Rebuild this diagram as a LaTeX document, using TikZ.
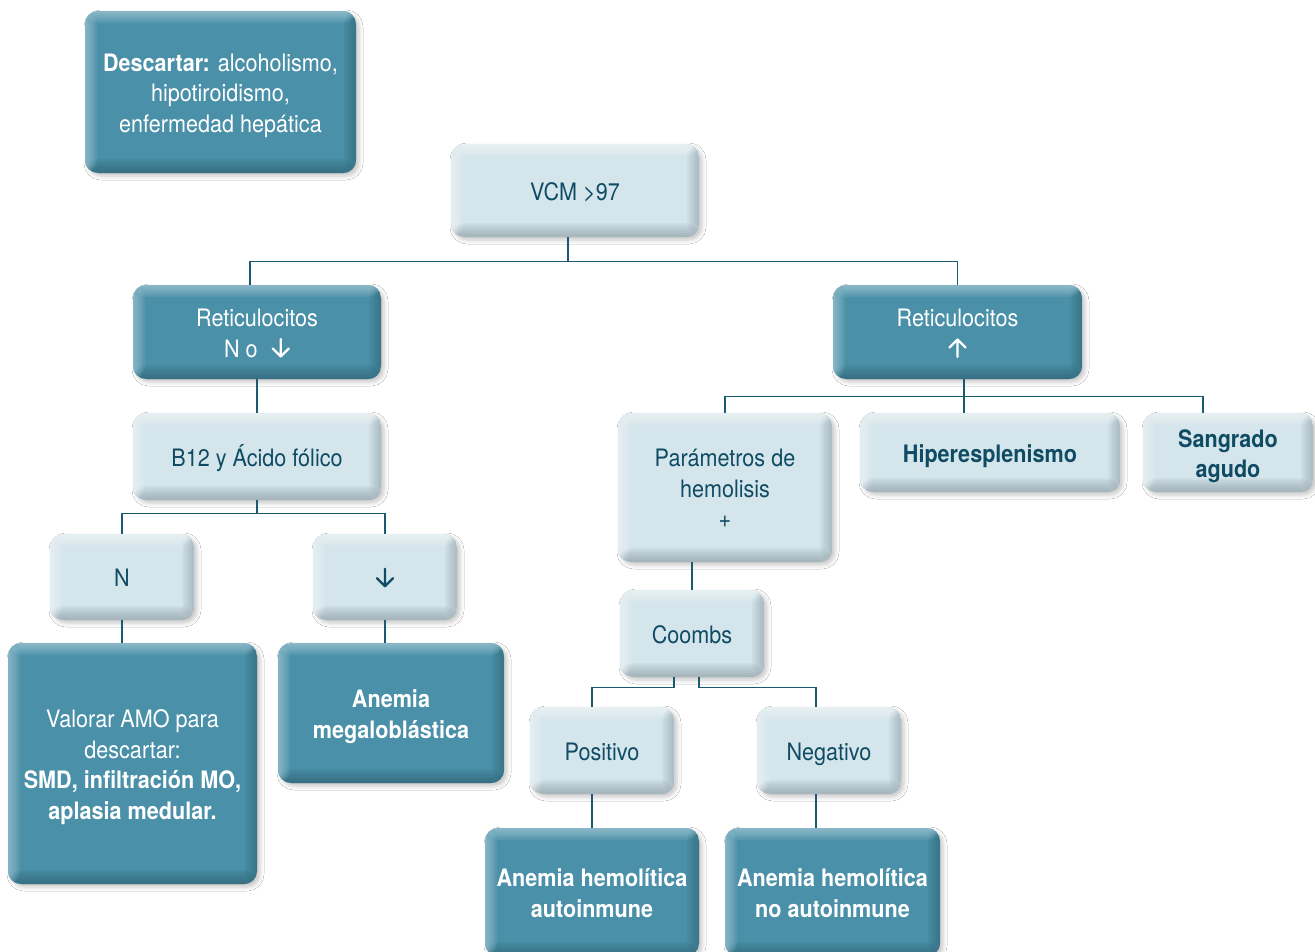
\documentclass[tikz,border=0pt]{standalone}
\usepackage{fontspec}
\setmainfont{TeX Gyre Heros}[FakeStretch=0.9]
\usetikzlibrary{shadows.blur,calc}

\definecolor{dkbase}{HTML}{4A90A8}
\definecolor{dkshade}{HTML}{2A5A6A}
\definecolor{dkhigh}{HTML}{D0E6EE}
\definecolor{ltbase}{HTML}{D5E5EC}
\definecolor{ltshade}{HTML}{7F9099}
\definecolor{lthigh}{HTML}{FFFFFF}
\definecolor{inkteal}{HTML}{0F4C64}
\definecolor{wirecol}{HTML}{1B5A6F}

% open-headed arrows used inside the boxes
\newcommand{\arrdn}[1]{\tikz[x=1pt,y=1pt,baseline=0pt,sharp corners]{%
  \draw[#1,line width=2.3pt,line cap=round,line join=round]
    (0,18)--(0,0.5) (-8,8.5)--(0,0.5)--(8,8.5);}}
\newcommand{\arrup}[1]{\tikz[x=1pt,y=1pt,baseline=0pt,sharp corners]{%
  \draw[#1,line width=2.3pt,line cap=round,line join=round]
    (0,0)--(0,17.5) (-8,9.5)--(0,17.5)--(8,9.5);}}
% line strut: keeps the text block centred in every box
\newcommand{\ls}{\rule[-5.5pt]{0pt}{30.5pt}}

\tikzset{
  % soft bevel: stacked translucent strips along each edge
  bevel/.style 2 args={path picture={
    \foreach \h in {2,4,...,14}{
      \fill[#1, opacity=0.1] (path picture bounding box.south west)
        rectangle ([yshift=\h pt]path picture bounding box.south east);}
    \foreach \h in {2,4,...,12}{
      \fill[#1, opacity=0.09] (path picture bounding box.south east)
        rectangle ([xshift=-\h pt]path picture bounding box.north east);}
    \foreach \h in {2,4,...,12}{
      \fill[#2, opacity=0.1] (path picture bounding box.north west)
        rectangle ([yshift=-\h pt]path picture bounding box.north east);}
    \foreach \h in {2,4,...,12}{
      \fill[#2, opacity=0.09] (path picture bounding box.north west)
        rectangle ([xshift=\h pt]path picture bounding box.south west);}
  }},
  box/.style={rounded corners=13pt, inner sep=0pt, align=center,
    font=\fontsize{24}{30.5}\selectfont,
    blur shadow={shadow xshift=3pt, shadow yshift=-3pt, shadow blur radius=4pt, shadow opacity=22}},
  darkbox/.style={box, fill=dkbase, text=white, bevel={dkshade}{dkhigh}},
  lightbox/.style={box, fill=ltbase, text=inkteal, bevel={ltshade}{lthigh}},
  link/.style={draw=wirecol, line width=1.4pt},
}

\begin{document}
\begin{tikzpicture}[x=1pt, y=-1pt]
  \fill[white] (0,0) rectangle (1315,951);
  \useasboundingbox (0,0) rectangle (1315,951);

  % boxes
  \node[darkbox, minimum width=271pt, minimum height=162pt] (desc) at (220.5,92)
    {\ls\textbf{Descartar:} alcoholismo,\\ hipotiroidismo,\\ enfermedad hepática\ls};
  \node[lightbox, minimum width=248pt, minimum height=93pt] (vcm) at (575,190.5) {\ls VCM >97\ls};
  \node[darkbox, minimum width=248pt, minimum height=94pt] (retL) at (257,332)
    {\ls Reticulocitos\\ N o\,\, \arrdn{white}\ls};
  \node[darkbox, minimum width=249pt, minimum height=94pt] (retR) at (957.5,332)
    {\ls Reticulocitos\\ \arrup{white}\ls};
  \node[lightbox, minimum width=248pt, minimum height=87pt] (b12) at (257,456.5) {\ls B12 y Ácido fólico\ls};
  \node[lightbox, minimum width=214pt, minimum height=149pt] (param) at (725,487.5)
    {\ls Parámetros de\\ hemolisis\\ +\ls};
  \node[lightbox, minimum width=260pt, minimum height=79pt] (hiper) at (990,452.5) {\ls\textbf{Hiperesplenismo}\ls};
  \node[lightbox, minimum width=170pt, minimum height=79pt] (sang) at (1228,452.5) {\ls\textbf{Sangrado}\\ \textbf{agudo}\ls};
  \node[lightbox, minimum width=144pt, minimum height=86pt] (nN) at (122,577) {\ls N\ls};
  \node[lightbox, minimum width=144pt, minimum height=86pt] (nDn) at (385,577) {\ls\arrdn{inkteal}\ls};
  \node[darkbox, minimum width=249pt, minimum height=241pt] (valorar) at (132.5,763.5)
    {\ls Valorar AMO para\\ descartar:\\ \textbf{SMD, infiltración MO,}\\ \textbf{aplasia medular.}\ls};
  \node[darkbox, minimum width=226pt, minimum height=140pt] (megalo) at (391,713)
    {\ls\textbf{Anemia}\\ \textbf{megaloblástica}\ls};
  \node[lightbox, minimum width=144pt, minimum height=87pt] (coombs) at (692,633.5) {\ls Coombs\ls};
  \node[lightbox, minimum width=144pt, minimum height=87pt] (pos) at (602,750.5) {\ls Positivo\ls};
  \node[lightbox, minimum width=144pt, minimum height=87pt] (neg) at (829,750.5) {\ls Negativo\ls};
  \node[darkbox, minimum width=214pt, minimum height=128pt] (ahA) at (592,892)
    {\ls\textbf{Anemia hemolítica}\\ \textbf{autoinmune}\ls};
  \node[darkbox, minimum width=215pt, minimum height=128pt] (ahN) at (832.5,892)
    {\ls\textbf{Anemia hemolítica}\\ \textbf{no autoinmune}\ls};

  % connectors
  \draw[link] ([xshift=-7pt]vcm.south) -- ++(0,24) coordinate (j1);
  \draw[link] (j1) -| ([xshift=-7pt]retL.north);
  \draw[link] (j1) -| (retR.north);

  \draw[link] (retL.south) -- (b12.north);
  \draw[link] (b12.south) -- ++(0,13) coordinate (j2);
  \draw[link] (j2) -| (nN.north);
  \draw[link] (j2) -| (nDn.north);
  \draw[link] (nN.south) -- (nN.south |- valorar.north);
  \draw[link] (nDn.south) -- (nDn.south |- megalo.north);

  \draw[link] ([xshift=6.5pt]retR.south) -- ++(0,17) coordinate (j3);
  \draw[link] (j3) -| (param.north);
  \draw[link] (j3) -- (j3 |- hiper.north);
  \draw[link] (j3) -| ([xshift=-25pt]sang.north);

  \draw[link] ([xshift=-33pt]param.south) -- (coombs.north);
  \draw[link] ([xshift=-18pt]coombs.south) -- ++(0,10) -| ([xshift=-10pt]pos.north);
  \draw[link] ([xshift=7pt]coombs.south) -- ++(0,10) -| ([xshift=-13pt]neg.north);
  \draw[link] ([xshift=-10pt]pos.south) -- (ahA.north);
  \draw[link] ([xshift=-13pt]neg.south) -- ([xshift=-16.5pt]ahN.north);
\end{tikzpicture}
\end{document}
